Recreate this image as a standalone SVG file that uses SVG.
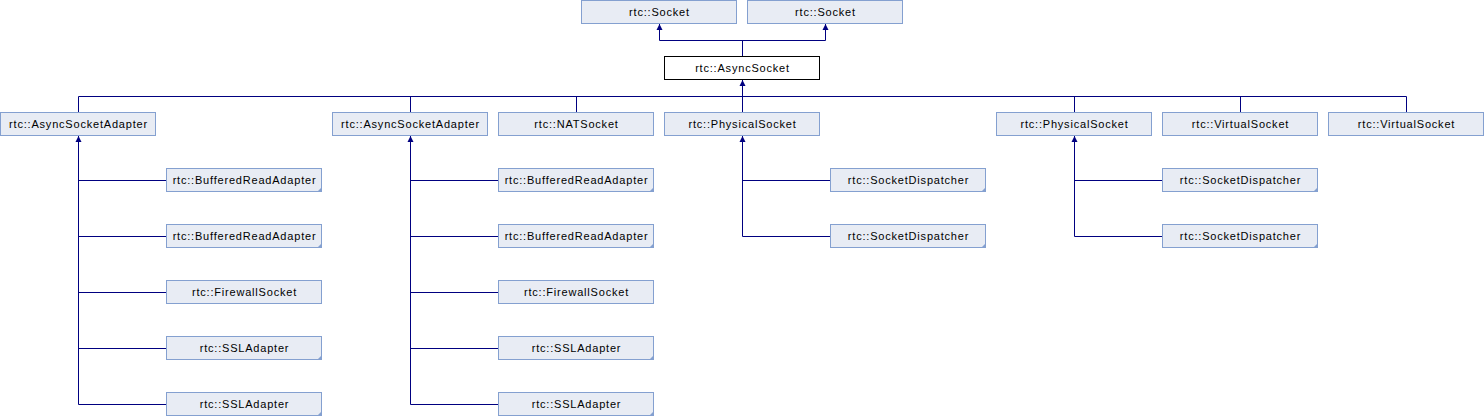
<svg xmlns="http://www.w3.org/2000/svg" xmlns:xlink="http://www.w3.org/1999/xlink" width="1484" height="416" viewBox="0 0 1484 416">
<style>
.b{fill:#e8ecf4;stroke:#84a0d0;stroke-width:1}
.r{fill:#ffffff;stroke:#000000;stroke-width:1}
.t{font-family:"Liberation Sans",Arial,sans-serif;font-size:11px;letter-spacing:0.8px;fill:#000000;text-anchor:middle}
.c{fill:#84a0d0}
.l{fill:none;stroke:#000080;stroke-width:1}
.a{fill:#000080}
</style>
<defs>
<path id="ah" d="M0,0 L-3,6 L3,6 Z"/>
<path id="cn" d="M0,0 L-5,0 L0,-5 Z"/>
</defs>
<rect width="1484" height="416" fill="#ffffff"/>
<g id="connectors">
<path class="l" d="M659.5,24 V40.5 H825.5 V24 M742.5,40.5 V57"/>
<path class="l" d="M742.5,80 V112 M78.5,96.5 H1406.5 M78.5,96.5 V112 M410.5,96.5 V112 M576.5,96.5 V112 M1074.5,96.5 V112 M1240.5,96.5 V112 M1406.5,96.5 V112"/>
<path class="l" d="M78.5,136 V404.5 M78.5,180.5 H166 M78.5,236.5 H166 M78.5,292.5 H166 M78.5,348.5 H166 M78.5,404.5 H166"/>
<path class="l" d="M410.5,136 V404.5 M410.5,180.5 H498 M410.5,236.5 H498 M410.5,292.5 H498 M410.5,348.5 H498 M410.5,404.5 H498"/>
<path class="l" d="M742.5,136 V236.5 M742.5,180.5 H830 M742.5,236.5 H830"/>
<path class="l" d="M1074.5,136 V236.5 M1074.5,180.5 H1162 M1074.5,236.5 H1162"/>
<use href="#ah" class="a" x="659.5" y="24"/>
<use href="#ah" class="a" x="825.5" y="24"/>
<use href="#ah" class="a" x="742.5" y="80"/>
<use href="#ah" class="a" x="78.5" y="136"/>
<use href="#ah" class="a" x="410.5" y="136"/>
<use href="#ah" class="a" x="742.5" y="136"/>
<use href="#ah" class="a" x="1074.5" y="136"/>
</g>
<g id="socket1"><rect class="b" x="581.5" y="0.5" width="155" height="23"/><text class="t" x="659.5" y="15.5">rtc::Socket</text></g>
<g id="socket2"><rect class="b" x="747.5" y="0.5" width="155" height="23"/><text class="t" x="825.5" y="15.5">rtc::Socket</text></g>
<g id="asyncsocket"><rect class="r" x="664.5" y="56.5" width="155" height="23"/><text class="t" x="742.5" y="71.5">rtc::AsyncSocket</text></g>
<g id="asa1"><rect class="b" x="0.5" y="112.5" width="155" height="23"/><text class="t" x="78.5" y="127.5">rtc::AsyncSocketAdapter</text></g>
<g id="asa2"><rect class="b" x="332.5" y="112.5" width="155" height="23"/><text class="t" x="410.5" y="127.5">rtc::AsyncSocketAdapter</text></g>
<g id="natsocket"><rect class="b" x="498.5" y="112.5" width="155" height="23"/><text class="t" x="576.5" y="127.5">rtc::NATSocket</text></g>
<g id="phys1"><rect class="b" x="664.5" y="112.5" width="155" height="23"/><text class="t" x="742.5" y="127.5">rtc::PhysicalSocket</text></g>
<g id="phys2"><rect class="b" x="996.5" y="112.5" width="155" height="23"/><text class="t" x="1074.5" y="127.5">rtc::PhysicalSocket</text></g>
<g id="virt1"><rect class="b" x="1162.5" y="112.5" width="155" height="23"/><text class="t" x="1240.5" y="127.5">rtc::VirtualSocket</text></g>
<g id="virt2"><rect class="b" x="1328.5" y="112.5" width="155" height="23"/><text class="t" x="1406.5" y="127.5">rtc::VirtualSocket</text></g>
<g id="bra1"><rect class="b" x="166.5" y="168.5" width="155" height="23"/><use href="#cn" class="c" x="322" y="192"/><text class="t" x="244.5" y="183.5">rtc::BufferedReadAdapter</text></g>
<g id="bra2"><rect class="b" x="166.5" y="224.5" width="155" height="23"/><use href="#cn" class="c" x="322" y="248"/><text class="t" x="244.5" y="239.5">rtc::BufferedReadAdapter</text></g>
<g id="fw1"><rect class="b" x="166.5" y="280.5" width="155" height="23"/><text class="t" x="244.5" y="295.5">rtc::FirewallSocket</text></g>
<g id="ssl1"><rect class="b" x="166.5" y="336.5" width="155" height="23"/><use href="#cn" class="c" x="322" y="360"/><text class="t" x="244.5" y="351.5">rtc::SSLAdapter</text></g>
<g id="ssl2"><rect class="b" x="166.5" y="392.5" width="155" height="23"/><use href="#cn" class="c" x="322" y="416"/><text class="t" x="244.5" y="407.5">rtc::SSLAdapter</text></g>
<g id="bra3"><rect class="b" x="498.5" y="168.5" width="155" height="23"/><use href="#cn" class="c" x="654" y="192"/><text class="t" x="576.5" y="183.5">rtc::BufferedReadAdapter</text></g>
<g id="bra4"><rect class="b" x="498.5" y="224.5" width="155" height="23"/><use href="#cn" class="c" x="654" y="248"/><text class="t" x="576.5" y="239.5">rtc::BufferedReadAdapter</text></g>
<g id="fw2"><rect class="b" x="498.5" y="280.5" width="155" height="23"/><text class="t" x="576.5" y="295.5">rtc::FirewallSocket</text></g>
<g id="ssl3"><rect class="b" x="498.5" y="336.5" width="155" height="23"/><use href="#cn" class="c" x="654" y="360"/><text class="t" x="576.5" y="351.5">rtc::SSLAdapter</text></g>
<g id="ssl4"><rect class="b" x="498.5" y="392.5" width="155" height="23"/><use href="#cn" class="c" x="654" y="416"/><text class="t" x="576.5" y="407.5">rtc::SSLAdapter</text></g>
<g id="sd1"><rect class="b" x="830.5" y="168.5" width="155" height="23"/><use href="#cn" class="c" x="986" y="192"/><text class="t" x="908.5" y="183.5">rtc::SocketDispatcher</text></g>
<g id="sd2"><rect class="b" x="830.5" y="224.5" width="155" height="23"/><use href="#cn" class="c" x="986" y="248"/><text class="t" x="908.5" y="239.5">rtc::SocketDispatcher</text></g>
<g id="sd3"><rect class="b" x="1162.5" y="168.5" width="155" height="23"/><use href="#cn" class="c" x="1318" y="192"/><text class="t" x="1240.5" y="183.5">rtc::SocketDispatcher</text></g>
<g id="sd4"><rect class="b" x="1162.5" y="224.5" width="155" height="23"/><use href="#cn" class="c" x="1318" y="248"/><text class="t" x="1240.5" y="239.5">rtc::SocketDispatcher</text></g>
</svg>
